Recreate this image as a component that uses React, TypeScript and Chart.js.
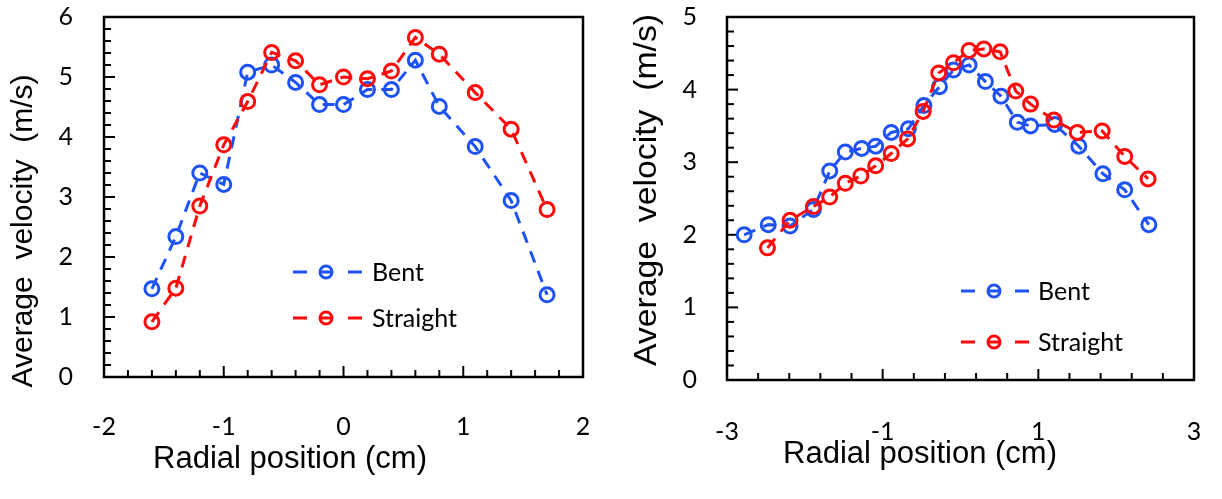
import React, { useEffect, useRef } from 'react';
import { Chart, registerables } from 'chart.js';

Chart.register(...registerables);

// ---------- data ----------
const seriesLabels = ['Bent', 'Straight'];

const leftPositions = [-1.6, -1.4, -1.2, -1.0, -0.8, -0.6, -0.4, -0.2, 0, 0.2, 0.4, 0.6, 0.8, 1.1, 1.4, 1.7];
const leftBent = [1.47, 2.34, 3.40, 3.21, 5.08, 5.20, 4.91, 4.54, 4.54, 4.79, 4.79, 5.28, 4.51, 3.84, 2.94, 1.37];
const leftStraight = [0.92, 1.48, 2.85, 3.87, 4.59, 5.41, 5.27, 4.87, 5.00, 4.97, 5.10, 5.66, 5.38, 4.74, 4.13, 2.79];

const rightBentPositions = [-2.78, -2.47, -2.19, -1.89, -1.68, -1.48, -1.27, -1.09, -0.89, -0.67, -0.47, -0.27, -0.09, 0.11, 0.32, 0.52, 0.73, 0.90, 1.21, 1.52, 1.83, 2.11, 2.42];
const rightBent = [2.00, 2.14, 2.12, 2.35, 2.88, 3.14, 3.19, 3.22, 3.41, 3.46, 3.78, 4.04, 4.27, 4.34, 4.11, 3.91, 3.55, 3.50, 3.52, 3.22, 2.84, 2.62, 2.14];
const rightStraightPositions = [-2.48, -2.19, -1.89, -1.68, -1.48, -1.28, -1.09, -0.89, -0.68, -0.48, -0.28, -0.09, 0.11, 0.30, 0.51, 0.71, 0.90, 1.20, 1.50, 1.82, 2.11, 2.41];
const rightStraight = [1.82, 2.20, 2.39, 2.52, 2.71, 2.81, 2.95, 3.12, 3.32, 3.70, 4.23, 4.37, 4.54, 4.56, 4.52, 3.98, 3.80, 3.58, 3.41, 3.43, 3.08, 2.77];

const leftXTicks = [-2, -1, 0, 1, 2];
const leftYTicks = [0, 1, 2, 3, 4, 5, 6];
const rightXTicks = [-3, -1, 1, 3];
const rightYTicks = [0, 1, 2, 3, 4, 5];

const yTitleText = 'Average  velocity  (m/s)';
const xTitleText = 'Radial position (cm)';

// ---------- styles ----------
const BLUE = '#1f52f5';
const RED = '#ff0a0a';
const TICK_FONT = 'Lato';
const ARIAL = '"Liberation Sans", Arial, sans-serif';

const framePlugin = {
  id: 'frameTicks',
  beforeDatasetsDraw(chart: any, _args: any, opts: any) {
    const { ctx, chartArea: a, scales } = chart;
    ctx.save();
    ctx.strokeStyle = '#000';
    ctx.lineWidth = 2;
    const drawTicks = (scale: any, step: number, major: number, horizontal: boolean) => {
      const n = Math.round((scale.max - scale.min) / step);
      for (let i = 0; i <= n; i++) {
        const v = scale.min + i * step;
        const r = (v - scale.min) / major;
        const isMajor = Math.abs(r - Math.round(r)) < 1e-6;
        const len = isMajor ? 11 : 7;
        const p = scale.getPixelForValue(v);
        ctx.beginPath();
        if (horizontal) {
          ctx.moveTo(p, a.bottom);
          ctx.lineTo(p, a.bottom - len);
        } else {
          ctx.moveTo(a.left, p);
          ctx.lineTo(a.left + len, p);
        }
        ctx.stroke();
      }
    };
    drawTicks(scales.x, opts.xStep, opts.xMajor, true);
    drawTicks(scales.y, opts.yStep, opts.yMajor, false);
    ctx.lineWidth = 2.5;
    ctx.strokeRect(a.left, a.top, a.right - a.left, a.bottom - a.top);
    ctx.restore();
  },
  afterDraw(chart: any, _args: any, opts: any) {
    const { ctx } = chart;
    ctx.save();
    ctx.fillStyle = '#000';
    // y title (stretched along its length to the measured extent)
    ctx.save();
    ctx.font = `${opts.yTitle.size}px ${ARIAL}`;
    const w = ctx.measureText(yTitleText).width;
    ctx.translate(opts.yTitle.x, opts.yTitle.y);
    ctx.rotate(-Math.PI / 2);
    ctx.scale(opts.yTitle.len / w, 1);
    ctx.textAlign = 'center';
    ctx.textBaseline = 'middle';
    ctx.fillText(yTitleText, 0, 0);
    ctx.restore();
    // x title
    ctx.font = `${opts.xTitle.size}px ${ARIAL}`;
    ctx.textAlign = 'center';
    ctx.textBaseline = 'alphabetic';
    ctx.fillText(xTitleText, opts.xTitle.x, opts.xTitle.y);
    // legend
    const lg = opts.legend;
    chart.data.datasets.forEach((ds: any, i: number) => {
      const y = lg.rows[i];
      ctx.strokeStyle = ds.borderColor;
      ctx.lineWidth = ds.borderWidth;
      ctx.beginPath();
      ctx.moveTo(lg.x0, y); ctx.lineTo(lg.x0 + 14, y);
      ctx.moveTo(lg.cx - 5, y); ctx.lineTo(lg.cx + 5, y);
      ctx.moveTo(lg.x1 - 14, y); ctx.lineTo(lg.x1, y);
      ctx.stroke();
      ctx.lineWidth = ds.pointBorderWidth;
      ctx.beginPath();
      ctx.arc(lg.cx, y, lg.r, 0, Math.PI * 2);
      ctx.stroke();
      ctx.fillStyle = '#000';
      ctx.font = `${lg.size}px ${TICK_FONT}`;
      ctx.textAlign = 'left';
      ctx.textBaseline = 'middle';
      ctx.fillText(ds.label, lg.textX, y + 1);
    });
    ctx.restore();
  },
};

function makeDataset(label: string, xs: number[], ys: number[], color: string, order: number) {
  return {
    label,
    data: xs.map((x, i) => ({ x, y: ys[i] })),
    showLine: true,
    borderColor: color,
    backgroundColor: 'rgba(0,0,0,0)',
    borderWidth: 3,
    borderDash: [12, 9],
    pointRadius: 7,
    pointHoverRadius: 7,
    pointBorderWidth: 3,
    pointBorderColor: color,
    pointBackgroundColor: 'rgba(0,0,0,0)',
    order,
  };
}

const zeroPad = (s: any) => {
  s.paddingTop = 0;
  s.paddingBottom = 0;
  s.paddingLeft = 0;
  s.paddingRight = 0;
};

function makeConfig(p: any) {
  const tickFont = { family: TICK_FONT, size: 25 };
  return {
    type: 'scatter',
    data: {
      datasets: [
        makeDataset(seriesLabels[0], p.bentX, p.bentY, BLUE, 1),
        makeDataset(seriesLabels[1], p.straightX, p.straightY, RED, 0),
      ],
    },
    options: {
      responsive: false,
      animation: false,
      events: [],
      layout: { autoPadding: false, padding: { top: p.padTop, right: p.padRight, left: 0, bottom: 0 } },
      plugins: {
        legend: { display: false },
        tooltip: { enabled: false },
        frameTicks: p.frame,
      },
      scales: {
        x: {
          type: 'linear',
          min: p.xTicks[0],
          max: p.xTicks[p.xTicks.length - 1],
          afterBuildTicks: (s: any) => { s.ticks = p.xTicks.map((v: number) => ({ value: v })); },
          afterFit: (s: any) => { s.height = p.xHeight; zeroPad(s); },
          grid: { display: false, drawTicks: false },
          border: { display: false },
          ticks: { padding: p.xPad, font: tickFont, color: '#000', maxRotation: 0, autoSkip: false, callback: (v: any) => String(v) },
        },
        y: {
          type: 'linear',
          min: p.yTicks[0],
          max: p.yTicks[p.yTicks.length - 1],
          afterBuildTicks: (s: any) => { s.ticks = p.yTicks.map((v: number) => ({ value: v })); },
          afterFit: (s: any) => { s.width = p.yWidth; zeroPad(s); },
          grid: { display: false, drawTicks: false },
          border: { display: false },
          ticks: { padding: p.yPad, font: tickFont, color: '#000', autoSkip: false, callback: (v: any) => String(v) },
        },
      },
    },
    plugins: [framePlugin],
  };
}

const leftParams = {
  bentX: leftPositions, bentY: leftBent, straightX: leftPositions, straightY: leftStraight,
  xTicks: leftXTicks, yTicks: leftYTicks,
  padTop: 17, padRight: 28, xHeight: 122, yWidth: 104, xPad: 35, yPad: 31,
  frame: {
    xStep: 0.2, xMajor: 1, yStep: 0.2, yMajor: 1,
    yTitle: { x: 24, y: 231, size: 29, len: 313 },
    xTitle: { x: 290, y: 468, size: 31 },
    legend: { x0: 293, cx: 326, x1: 362, r: 6, textX: 372, rows: [272, 318], size: 25 },
  },
};

const rightParams = {
  bentX: rightBentPositions, bentY: rightBent, straightX: rightStraightPositions, straightY: rightStraight,
  xTicks: rightXTicks, yTicks: rightYTicks,
  padTop: 17, padRight: 28, xHeight: 119, yWidth: 116, xPad: 37, yPad: 30,
  frame: {
    xStep: 0.4, xMajor: 2, yStep: 0.2, yMajor: 1,
    yTitle: { x: 36, y: 190, size: 31, len: 352 },
    xTitle: { x: 309, y: 463, size: 31 },
    legend: { x0: 350, cx: 383, x1: 418, r: 6, textX: 427, rows: [291, 342], size: 25 },
  },
};

function Panel({ params, left }: { params: any; left: number }) {
  const ref = useRef<HTMLCanvasElement>(null);
  useEffect(() => {
    const chart = new Chart(ref.current as HTMLCanvasElement, makeConfig(params) as any);
    return () => chart.destroy();
  }, []);
  return (
    <canvas
      ref={ref}
      width={611}
      height={499}
      style={{ position: 'absolute', left, top: 0, width: 611, height: 499 }}
    />
  );
}

export default function App() {
  return (
    <div style={{ position: 'absolute', left: 0, top: 0, width: 1222, height: 499, background: '#fff' }}>
      <Panel params={leftParams} left={0} />
      <Panel params={rightParams} left={611} />
    </div>
  );
}
